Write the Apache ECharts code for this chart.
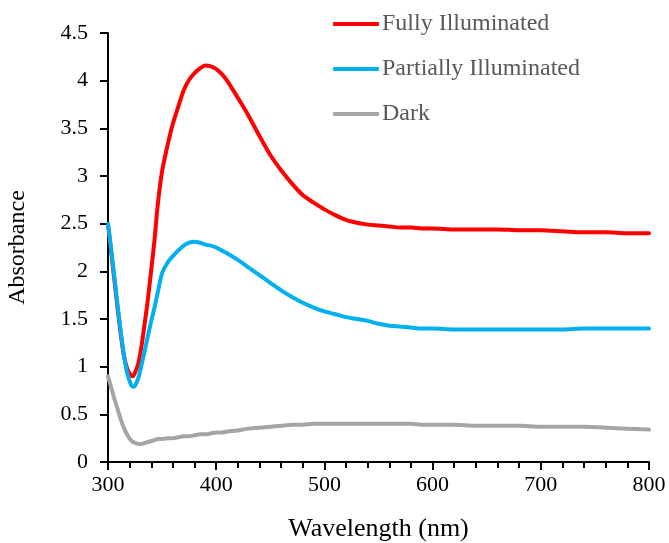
<!DOCTYPE html>
<html>
<head>
<meta charset="utf-8">
<script src="https://cdn.jsdelivr.net/npm/echarts@6/dist/echarts.min.js"></script>
<style>
html,body{margin:0;padding:0;background:#fff;}
#chart{width:669px;height:543px;}
</style>
</head>
<body>
<div id="chart"></div>
<script>
const wavelengths = [300,303,306,309,312,315,318,321,323,325,328,331,334,337,340,343,346,350,355,360,365,370,375,380,385,390,395,400,405,410,420,430,440,450,460,470,480,490,500,510,520,530,540,550,560,570,580,590,600,620,640,660,680,700,720,740,760,780,800];

const fullyIlluminated = [2.50,2.20,1.90,1.60,1.32,1.10,0.97,0.91,0.90,0.94,1.03,1.22,1.46,1.72,2.02,2.33,2.70,3.05,3.32,3.55,3.73,3.90,4.01,4.08,4.13,4.16,4.15,4.12,4.07,4.00,3.82,3.63,3.42,3.22,3.06,2.92,2.80,2.72,2.65,2.59,2.54,2.51,2.49,2.48,2.47,2.46,2.46,2.45,2.45,2.44,2.44,2.44,2.43,2.43,2.42,2.41,2.41,2.40,2.40];

const partiallyIlluminated = [2.50,2.22,1.93,1.63,1.35,1.10,0.92,0.82,0.79,0.80,0.88,1.02,1.17,1.33,1.48,1.62,1.78,1.98,2.09,2.16,2.22,2.27,2.30,2.31,2.30,2.28,2.27,2.25,2.22,2.19,2.12,2.04,1.96,1.88,1.80,1.73,1.67,1.62,1.58,1.55,1.52,1.50,1.48,1.45,1.43,1.42,1.41,1.40,1.40,1.39,1.39,1.39,1.39,1.39,1.39,1.40,1.40,1.40,1.40];

const dark = [0.90,0.78,0.66,0.55,0.44,0.35,0.28,0.23,0.21,0.20,0.19,0.19,0.20,0.21,0.22,0.23,0.24,0.24,0.25,0.25,0.26,0.27,0.27,0.28,0.29,0.29,0.30,0.31,0.31,0.32,0.33,0.35,0.36,0.37,0.38,0.39,0.39,0.40,0.40,0.40,0.40,0.40,0.40,0.40,0.40,0.40,0.40,0.39,0.39,0.39,0.38,0.38,0.38,0.37,0.37,0.37,0.36,0.35,0.34];

const seriesNames = ['Fully Illuminated','Partially Illuminated','Dark'];
const seriesColors = ['#FF0000','#00B0F0','#A5A5A5'];
const seriesValues = [fullyIlluminated, partiallyIlluminated, dark];

const FONT = '"Liberation Serif","Times New Roman",serif';

const chart = echarts.init(document.getElementById('chart'), null, {renderer:'canvas'});
chart.setOption({
  animation:false,
  backgroundColor:'#fff',
  grid:{left:108,right:20,top:33,bottom:81,outerBoundsMode:'none'},
  legend:{
    orient:'vertical',
    left:333,
    top:12,
    padding:0,
    itemWidth:46,
    itemHeight:4,
    itemGap:21,
    icon:'roundRect',
    textStyle:{fontFamily:FONT,fontSize:24,color:'#595959',lineHeight:24,padding:[0,0,0,-2]},
    data:seriesNames
  },
  xAxis:{
    type:'value',
    min:300,max:800,interval:100,
    name:'Wavelength (nm)',
    nameLocation:'middle',
    nameGap:54,
    nameTextStyle:{fontFamily:FONT,fontSize:26,color:'#000'},
    axisLine:{show:true,lineStyle:{color:'#000',width:2}},
    axisTick:{show:true,length:8,lineStyle:{color:'#000',width:2}},
    minorTick:{show:true,splitNumber:5,length:6,lineStyle:{color:'#000',width:2}},
    axisLabel:{fontFamily:FONT,fontSize:22,color:'#000',margin:12},
    splitLine:{show:false}
  },
  yAxis:{
    type:'value',
    min:0,max:4.5,interval:0.5,
    name:'Absorbance',
    nameLocation:'middle',
    nameGap:78,
    nameRotate:90,
    nameTextStyle:{fontFamily:FONT,fontSize:24,color:'#000'},
    axisLine:{show:true,lineStyle:{color:'#000',width:2}},
    axisTick:{show:true,length:8,lineStyle:{color:'#000',width:2}},
    axisLabel:{fontFamily:FONT,fontSize:22,color:'#000',margin:20},
    splitLine:{show:false}
  },
  series: seriesNames.map((name,i)=>({
    name:name,
    type:'line',
    showSymbol:false,
    symbol:'none',
    smooth:0.3,
    color:seriesColors[i],
    lineStyle:{color:seriesColors[i],width:4,cap:'round',join:'round'},
    data: wavelengths.map((w,j)=>[w, seriesValues[i][j]])
  }))
});
</script>
</body>
</html>
